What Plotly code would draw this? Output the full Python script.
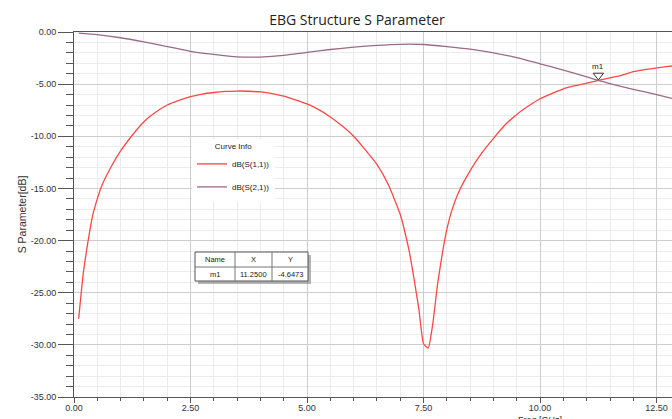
import plotly.graph_objects as go

# ---------------- data ----------------
freq_s11 = [0.10, 0.20, 0.30, 0.40, 0.50, 0.60, 0.80, 1.00, 1.25, 1.50, 1.75, 2.00, 2.25, 2.50,
            2.75, 3.00, 3.25, 3.50, 3.75, 4.00, 4.25, 4.50, 4.75, 5.00, 5.25, 5.50, 5.75, 6.00,
            6.25, 6.50, 6.75, 7.00, 7.10, 7.20, 7.30, 7.40, 7.50, 7.60, 7.70, 7.80, 7.90, 8.00,
            8.10, 8.25, 8.50, 8.75, 9.00, 9.25, 9.50, 9.75, 10.00, 10.25, 10.50, 10.75, 11.00,
            11.25, 11.50, 11.75, 12.00, 12.25, 12.50, 12.75, 13.00]
s11_db = [-27.5, -23.1, -20.1, -17.6, -16.0, -14.7, -12.9, -11.4, -9.9, -8.6, -7.7, -7.0, -6.55, -6.2,
          -5.95, -5.8, -5.7, -5.66, -5.68, -5.75, -5.9, -6.15, -6.5, -6.9, -7.45, -8.15, -9.0, -10.0,
          -11.3, -12.7, -14.7, -17.5, -19.2, -21.2, -23.8, -26.6, -29.9, -30.3, -27.9, -24.2, -21.3, -18.9,
          -17.2, -15.4, -13.3, -11.6, -10.2, -8.9, -7.9, -7.1, -6.4, -5.9, -5.45, -5.15, -4.9,
          -4.6473, -4.4, -4.15, -3.8, -3.6, -3.45, -3.3, -3.18]

freq_s21 = [0.10, 0.50, 1.00, 1.50, 2.00, 2.25, 2.50, 3.00, 3.50, 4.00, 4.50, 5.00, 5.50, 6.00,
            6.50, 7.00, 7.50, 8.00, 8.50, 9.00, 9.50, 10.00, 10.50, 11.00, 11.25, 11.50, 12.00,
            12.50, 13.00]
s21_db = [-0.10, -0.25, -0.55, -0.95, -1.40, -1.62, -1.85, -2.15, -2.38, -2.40, -2.25, -1.95, -1.68, -1.45,
          -1.28, -1.18, -1.20, -1.40, -1.65, -2.00, -2.45, -3.05, -3.65, -4.30, -4.6473, -4.95, -5.50,
          -6.00, -6.55]

series_names = ["dB(S(1,1))", "dB(S(2,1))"]
marker_name = "m1"
marker_x = 11.25
marker_y = -4.6473

x_tick_vals = [0.0, 2.5, 5.0, 7.5, 10.0, 12.5]
x_tick_labels = ["0.00", "2.50", "5.00", "7.50", "10.00", "12.50"]
y_tick_vals = [0, -5, -10, -15, -20, -25, -30, -35]
y_tick_labels = ["0.00", "-5.00", "-10.00", "-15.00", "-20.00", "-25.00", "-30.00", "-35.00"]

table_header = ["Name", "X", "Y"]
table_row = [marker_name, f"{marker_x:.4f}", f"{marker_y:.4f}"]

# ---------------- layout helpers ----------------
W, H = 672, 419
L, R, T, B = 74, 0, 32, 22


def px(xp):
    return (xp - L) / (W - L - R)


def py(yp):
    return (H - B - yp) / (H - T - B)


RED = "#ff4646"
PURPLE = "#9a6b88"
AXIS = "#555555"
FONT = "Liberation Sans"

fig = go.Figure()
fig.add_trace(go.Scatter(x=freq_s11, y=s11_db, mode="lines", name=series_names[0],
                         line=dict(color=RED, width=1.3, shape="spline", smoothing=0.5),
                         legendgroup="g1"))
fig.add_trace(go.Scatter(x=freq_s21, y=s21_db, mode="lines", name=series_names[1],
                         line=dict(color=PURPLE, width=1.3, shape="spline", smoothing=0.6),
                         legendgroup="g2"))
fig.add_trace(go.Scatter(x=[marker_x], y=[marker_y], mode="markers", showlegend=False,
                         marker=dict(symbol="triangle-up-open", size=9, angle=180, standoff=5,
                                     color="#333333", line=dict(width=1, color="#333333"))))

shapes = []
annotations = []

# marker label
annotations.append(dict(x=marker_x, y=marker_y, xref="x", yref="y", text=marker_name,
                        showarrow=False, yshift=14, xanchor="center", yanchor="middle",
                        font=dict(family=FONT, size=8, color="#222")))

# marker table
tx0, tx1, ty0, ty1 = 195, 308, 252, 281
shapes.append(dict(type="rect", xref="paper", yref="paper", x0=px(tx0 + 3), x1=px(tx1 + 3),
                   y0=py(ty1 + 3), y1=py(ty0 + 3), line=dict(width=0), fillcolor="rgba(120,120,120,0.55)"))
shapes.append(dict(type="rect", xref="paper", yref="paper", x0=px(tx0), x1=px(tx1),
                   y0=py(ty1), y1=py(ty0), line=dict(width=1, color="#555"), fillcolor="white"))
for cx in (235, 272):
    shapes.append(dict(type="line", xref="paper", yref="paper", x0=px(cx), x1=px(cx),
                       y0=py(ty1), y1=py(ty0), line=dict(width=1, color="#777")))
shapes.append(dict(type="line", xref="paper", yref="paper", x0=px(tx0), x1=px(tx1),
                   y0=py(267), y1=py(267), line=dict(width=1, color="#777")))
col_centers = [215, 253.5, 290]
for i, c in enumerate(col_centers):
    annotations.append(dict(x=px(c), y=py(259.5), xref="paper", yref="paper", text=table_header[i],
                            showarrow=False, xanchor="center", yanchor="middle",
                            font=dict(family=FONT, size=7.5, color="#222")))
    annotations.append(dict(x=px(c), y=py(274), xref="paper", yref="paper", text=table_row[i],
                            showarrow=False, xanchor="center", yanchor="middle",
                            font=dict(family=FONT, size=7.5, color="#222")))

# x axis title (original axis was wider, title sits under 10 GHz)
annotations.append(dict(x=px(540), y=py(413), xref="paper", yref="paper", text="Freq [GHz]",
                        showarrow=False, xanchor="center", yanchor="top",
                        font=dict(family=FONT, size=9, color="#333")))

fig.update_layout(
    width=W, height=H,
    margin=dict(l=L, r=R, t=T, b=B, pad=0),
    paper_bgcolor="white", plot_bgcolor="white",
    title=dict(text="EBG Structure S Parameter", x=357 / W, xanchor="center", y=1 - 20 / H,
               yanchor="middle", font=dict(family="Open Sans", size=14, color="#222")),
    xaxis=dict(range=[0, 12.83], tickmode="array", tickvals=x_tick_vals, ticktext=x_tick_labels,
               ticks="outside", ticklen=5, tickcolor=AXIS, showline=True, linecolor=AXIS,
               linewidth=1, mirror=True, showgrid=True, gridcolor="#cdcdcd", zeroline=False,
               ticklabelstandoff=-3,
               tickfont=dict(family=FONT, size=9, color="#333"),
               minor=dict(dtick=0.5, tick0=0, ticks="outside", ticklen=3, tickcolor=AXIS,
                          showgrid=True, gridcolor="#ececec")),
    yaxis=dict(range=[-35, 0], tickmode="array", tickvals=y_tick_vals, ticktext=y_tick_labels,
               ticks="outside", ticklen=15, tickcolor=AXIS, showline=True, linecolor=AXIS,
               linewidth=1, showgrid=True, gridcolor="#cdcdcd", zeroline=False,
               tickfont=dict(family=FONT, size=9, color="#333"),
               title=dict(text="S Parameter[dB]", standoff=1, font=dict(family=FONT, size=10.5, color="#333")),
               minor=dict(dtick=1, tick0=0, ticks="outside", ticklen=7, tickcolor=AXIS,
                          showgrid=True, gridcolor="#ececec")),
    legend=dict(x=px(192), y=py(139), xanchor="left", yanchor="top", bgcolor="white",
                borderwidth=0, font=dict(family=FONT, size=8, color="#222"),
                title=dict(text="Curve Info", side="top center", font=dict(family=FONT, size=8, color="#222")),
                tracegroupgap=4, itemwidth=30),
    shapes=shapes,
    annotations=annotations,
)

fig.write_html("out.html")
